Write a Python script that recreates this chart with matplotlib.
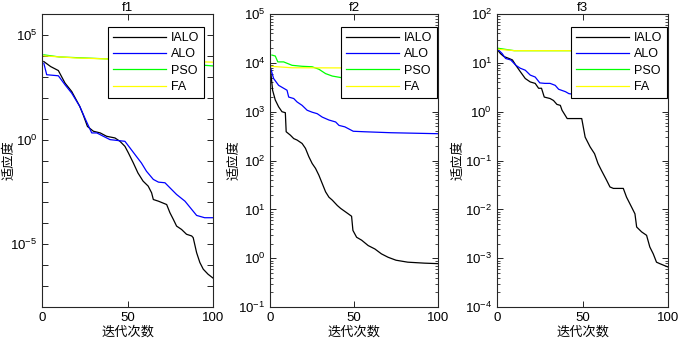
import numpy as np
import matplotlib.pyplot as plt
from matplotlib.ticker import FixedLocator, FuncFormatter, LogLocator, NullFormatter, NullLocator

plt.rcParams['font.family'] = ['Liberation Sans', 'Noto Sans CJK SC', 'DejaVu Sans']
plt.rcParams['mathtext.fontset'] = 'custom'
plt.rcParams['mathtext.rm'] = 'Liberation Sans'
plt.rcParams['mathtext.default'] = 'regular'

# ---- data (iteration, log10 fitness) ----
# f1
f1_ialo_x = [1, 5, 9.5, 13.4, 17.3, 22, 24, 26.5, 30, 34, 37.7, 42.6, 45.5, 48.4, 50.4, 53.3, 56, 59, 62, 64,
             65, 68, 72.8, 74.7, 76.7, 78.6, 81.5, 84.4, 87.4, 88.3, 90.3, 92.2, 94.2, 97, 100]
f1_ialo_y = [3.73, 3.49, 3.30, 2.70, 2.30, 1.59, 1.19, 0.63, 0.40, 0.32, 0.16, 0.08, -0.08, -0.32, -0.63, -1.11,
             -1.59, -1.98, -2.22, -2.54, -2.86, -2.94, -3.10, -3.49, -3.81, -4.13, -4.29, -4.52, -4.60, -4.68,
             -5.40, -5.87, -6.19, -6.43, -6.62]
f1_alo_x = [1, 2.7, 9.5, 13.4, 17.3, 22, 25, 29, 32, 35.8, 39.7, 48.4, 51.4, 55, 58, 61, 65, 68, 71.8, 74.7,
            78.6, 83.5, 87.4, 90.3, 95, 100]
f1_alo_y = [3.65, 3.10, 3.05, 2.62, 2.22, 1.59, 1.03, 0.32, 0.32, 0.16, 0.0, -0.08, -0.40, -0.79, -1.11, -1.51,
            -1.90, -2.03, -2.06, -2.30, -2.62, -2.94, -3.33, -3.62, -3.73, -3.73]
f1_pso_x = [1, 10, 40, 70, 100]
f1_pso_y = [4.05, 3.95, 3.85, 3.70, 3.52]
f1_fa_x = [1, 20, 60, 100]
f1_fa_y = [4.00, 3.90, 3.80, 3.70]

# f2
f2_ialo_x = [0, 1.4, 3, 5, 7, 9, 9.5, 12, 14, 16, 19, 21, 23, 25, 27, 29, 31, 33, 35, 37, 40, 42, 46.5, 48.5,
             49.3, 51.5, 54.5, 58.4, 62.4, 66.3, 70.3, 75, 82, 92, 100]
f2_ialo_y = [3.92, 3.44, 3.24, 3.10, 3.00, 2.98, 2.59, 2.52, 2.45, 2.42, 2.35, 2.25, 2.08, 1.94, 1.84, 1.70,
             1.53, 1.36, 1.25, 1.19, 1.08, 1.02, 0.91, 0.86, 0.57, 0.43, 0.37, 0.26, 0.19, 0.09, 0.02, -0.04,
             -0.08, -0.10, -0.11]
f2_alo_x = [0, 2, 5, 8, 10, 11, 14, 16, 19, 22, 25, 28, 31, 35, 39, 41, 44.5, 49.5, 56, 72, 100]
f2_alo_y = [3.92, 3.68, 3.54, 3.48, 3.44, 3.30, 3.27, 3.20, 3.13, 3.03, 2.99, 2.96, 2.89, 2.83, 2.79, 2.72,
            2.69, 2.60, 2.59, 2.57, 2.55]
f2_pso_x = [1, 3, 4.5, 8, 13, 19, 25, 29, 33, 37, 42, 50, 60, 70, 80, 90, 100]
f2_pso_y = [4.16, 4.14, 4.02, 4.02, 3.95, 3.93, 3.92, 3.87, 3.78, 3.73, 3.70, 3.65, 3.58, 3.50, 3.45, 3.40, 3.40]
f2_fa_x = [0, 13, 100]
f2_fa_y = [3.93, 3.90, 3.89]

# f3
f3_ialo_x = [0.4, 2, 4, 7, 9, 11, 13.6, 16.5, 19.4, 22.3, 24.3, 26, 27.6, 31, 33, 35, 37, 38, 41, 43, 49.5,
             51.5, 54.4, 57, 59, 61, 64, 66, 68, 73.8, 75.7, 78.6, 80.6, 81.6, 84.5, 87.4, 89.3, 91.3, 93.2,
             95.1, 100]
f3_ialo_y = [1.26, 1.19, 1.13, 1.09, 1.06, 0.95, 0.82, 0.68, 0.61, 0.58, 0.48, 0.48, 0.30, 0.27, 0.23, 0.15,
             0.13, 0.03, -0.14, -0.14, -0.14, -0.52, -0.72, -0.86, -1.06, -1.20, -1.40, -1.54, -1.57, -1.57,
             -1.75, -1.95, -2.09, -2.36, -2.46, -2.53, -2.77, -2.91, -3.08, -3.11, -3.18]
f3_alo_x = [0.4, 3, 5, 8, 11, 13.6, 16.5, 19.4, 22.3, 25, 28, 31, 34, 36, 40, 42, 50, 60, 100]
f3_alo_y = [1.28, 1.19, 1.09, 1.06, 0.95, 0.89, 0.85, 0.75, 0.71, 0.59, 0.58, 0.58, 0.54, 0.46, 0.41, 0.37,
            0.33, 0.30, 0.29]
f3_pso_x = [0.4, 10, 100]
f3_pso_y = [1.30, 1.25, 1.25]
f3_fa_x = [0.4, 10, 100]
f3_fa_y = [1.28, 1.25, 1.25]

names = ['IALO', 'ALO', 'PSO', 'FA']
colors = ['black', '#0000ff', '#00ff00', '#ffff00']

panels = [
    ('f1', [(f1_ialo_x, f1_ialo_y), (f1_alo_x, f1_alo_y), (f1_pso_x, f1_pso_y), (f1_fa_x, f1_fa_y)], (-8, 6)),
    ('f2', [(f2_ialo_x, f2_ialo_y), (f2_alo_x, f2_alo_y), (f2_pso_x, f2_pso_y), (f2_fa_x, f2_fa_y)], (-1, 5)),
    ('f3', [(f3_ialo_x, f3_ialo_y), (f3_alo_x, f3_alo_y), (f3_pso_x, f3_pso_y), (f3_fa_x, f3_fa_y)], (-4, 2)),
]
ax_pos = [[0.062, 0.102, 0.252, 0.857], [0.398, 0.102, 0.247, 0.857], [0.732, 0.102, 0.252, 0.857]]
leg_anchor = [(0.947, 0.956), (0.994, 0.956), (0.994, 0.956)]
ylabel_x = [-0.158, -0.179, -0.192]

fig = plt.figure(figsize=(6.79, 3.42), dpi=100)

for i, (title, series, (lo, hi)) in enumerate(panels):
    ax = fig.add_axes(ax_pos[i])
    for (x, y), name, c in zip(series, names, colors):
        ax.plot(x, 10.0 ** np.array(y), color=c, lw=0.9, label=name)
    ax.set_yscale('log')
    ax.set_xlim(0, 100)
    ax.set_ylim(10.0 ** lo, 10.0 ** hi)
    ax.set_xticks([0, 50, 100])
    ax.yaxis.set_major_locator(FixedLocator([10.0 ** k for k in range(lo, hi + 1)]))
    if title == 'f1':
        ax.yaxis.set_major_formatter(FuncFormatter(
            lambda v, p: r'$10^{%d}$' % round(np.log10(v)) if round(np.log10(v)) in (5, 0, -5) else ''))
        ax.yaxis.set_minor_locator(NullLocator())
    else:
        ax.yaxis.set_major_formatter(FuncFormatter(lambda v, p: r'$10^{%d}$' % round(np.log10(v))))
        ax.yaxis.set_minor_locator(LogLocator(base=10, subs=np.arange(2, 10), numticks=20))
        ax.yaxis.set_minor_formatter(NullFormatter())
    ax.tick_params(which='both', direction='in', top=True, right=True, labelsize=9.5)
    ax.tick_params(which='major', length=4, width=0.6)
    ax.tick_params(which='minor', length=2, width=0.5)
    for s in ax.spines.values():
        s.set_linewidth(0.8)
        s.set_color('#262626')
    ax.set_title(title, fontsize=9.5, pad=2)
    ax.set_xlabel('迭代次数', fontsize=9.5, labelpad=1, family=['Noto Sans CJK SC'])
    ax.set_ylabel('适应度', fontsize=9.5, family=['Noto Sans CJK SC'])
    ax.yaxis.set_label_coords(ylabel_x[i], 0.5)
    leg = ax.legend(loc='upper right', bbox_to_anchor=leg_anchor[i], borderaxespad=0, fancybox=False,
                    edgecolor='black', framealpha=1, fontsize=9, handlelength=4.2, handletextpad=0.4,
                    labelspacing=0.35, borderpad=0.4)
    leg.get_frame().set_linewidth(0.8)

fig.savefig('out.png', dpi=100)
